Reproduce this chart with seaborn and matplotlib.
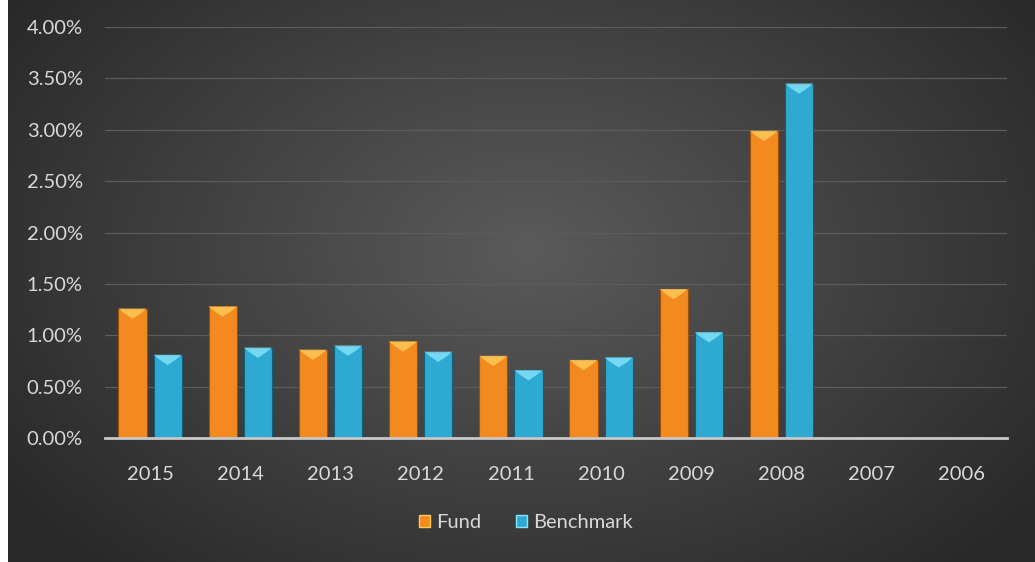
"""Fund vs benchmark expense ratios by year, dark bevelled bar chart."""

import numpy as np
import pandas as pd
import seaborn as sns
import matplotlib.pyplot as plt
from matplotlib.patches import Polygon, Patch
from matplotlib.ticker import PercentFormatter

years = ["2015", "2014", "2013", "2012", "2011", "2010", "2009", "2008", "2007", "2006"]
fund = [1.26, 1.28, 0.86, 0.94, 0.80, 0.76, 1.45, 2.99, 0.0, 0.0]
benchmark = [0.81, 0.88, 0.90, 0.84, 0.66, 0.785, 1.03, 3.45, 0.0, 0.0]
series = ["Fund", "Benchmark"]

df = pd.DataFrame({
    "year": years * 2,
    "value": [v / 100 for v in fund + benchmark],
    "series": [series[0]] * len(years) + [series[1]] * len(years),
})

colors = {"Fund": "#f28a1f", "Benchmark": "#2eaad2"}
caps = {"Fund": "#ffcc5a", "Benchmark": "#86e4fb"}
edges = {"Fund": "#9a5210", "Benchmark": "#14607a"}
text_col = "#d9d9d9"

sns.set_theme(style="dark")
plt.rcParams["font.family"] = ["Lato", "DejaVu Sans"]

fig = plt.figure(figsize=(10.35, 5.62), dpi=100)
fig.patch.set_facecolor("white")

# radial gradient background (leave thin white strip on the left)
bg = fig.add_axes([8 / 1035, 0, 1 - 8 / 1035, 1], zorder=0)
yy, xx = np.mgrid[0:562, 0:1027]
r = np.sqrt(((xx - 520) / 620) ** 2 + ((yy - 250) / 420) ** 2)
shade = np.clip(0.355 - 0.19 * r, 0.16, 0.36)
bg.imshow(np.dstack([shade] * 3), aspect="auto", interpolation="bilinear")
bg.set_axis_off()

ax = fig.add_axes([105 / 1035, 1 - 438 / 562, 902 / 1035, 411 / 562], zorder=1)
ax.set_facecolor("none")

sns.barplot(data=df, x="year", y="value", hue="series", palette=colors,
            width=0.78, gap=0.2, ax=ax, legend=False, saturation=1)

ax.set_ylim(0, 0.04)
ax.set_yticks(np.arange(0, 0.0401, 0.005))
ax.yaxis.set_major_formatter(PercentFormatter(1.0, decimals=2))
ax.grid(axis="y", color="#5c5c5c", linewidth=0.9)
ax.set_axisbelow(True)
for s in ["top", "right", "left"]:
    ax.spines[s].set_visible(False)
ax.spines["bottom"].set_color("#c8c8c8")
ax.spines["bottom"].set_linewidth(2)
ax.set_xlabel("")
ax.set_ylabel("")
ax.tick_params(axis="y", colors=text_col, labelsize=14.5, length=0, pad=16)
ax.tick_params(axis="x", colors=text_col, labelsize=14.5, length=0, pad=20)

# bevel caps on each bar
n = len(years)
for i, patch in enumerate(ax.patches[: 2 * n]):
    name = series[i // n]
    h = patch.get_height()
    patch.set_edgecolor(edges[name])
    patch.set_linewidth(0.8)
    if h <= 0:
        patch.set_visible(False)
        continue
    x0 = patch.get_x()
    w = patch.get_width()
    d = 0.001
    tri = Polygon([(x0, h), (x0 + w, h), (x0 + w * 0.8, h - d * 0.45),
                   (x0 + w / 2, h - d), (x0 + w * 0.2, h - d * 0.45)],
                  closed=True, facecolor=caps[name], edgecolor="none",
                  alpha=0.8, zorder=patch.get_zorder() + 0.1)
    ax.add_patch(tri)

handles = [Patch(facecolor=colors[s], edgecolor=caps[s], label=s) for s in series]
leg = fig.legend(handles=handles, loc="center", bbox_to_anchor=(0.508, 0.07),
                 ncol=2, frameon=False, fontsize=14.5, handlelength=0.55,
                 handleheight=0.55, handletextpad=0.3, columnspacing=1.7)
for t in leg.get_texts():
    t.set_color(text_col)

fig.savefig("out.png", dpi=100)
